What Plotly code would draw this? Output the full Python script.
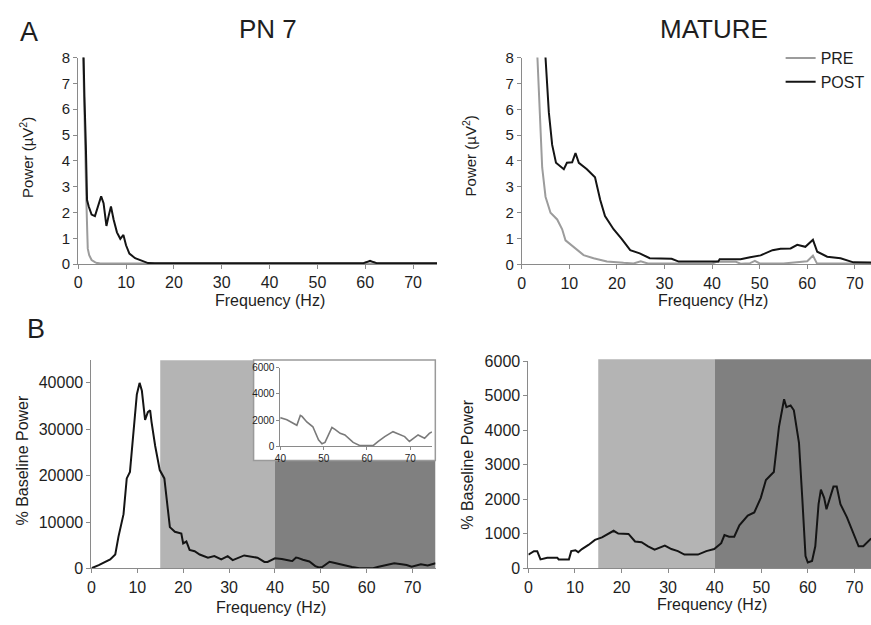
import plotly.graph_objects as go

# ---------------- data ----------------
# Panel A, PN 7 : power spectra (uV^2)
pn7_pre_freq = [0.8, 1.0, 1.3, 1.5, 1.7, 1.9, 2.0, 2.3, 2.55, 2.8, 3.5, 3.9, 4.5, 6, 10, 20, 30, 40, 50, 60, 70, 75]
pn7_pre_pow = [10, 8.0, 6.0, 4.5, 2.5, 1.2, 0.6, 0.35, 0.23, 0.16, 0.08, 0.04, 0.03, 0.02, 0.02, 0.02, 0.02, 0.02, 0.02, 0.02, 0.02, 0.02]

pn7_post_freq = [0.9, 1.04, 1.3, 1.6, 1.85, 2.2, 2.8, 3.5, 4.2, 4.8, 5.3, 5.9, 6.35, 6.85, 7.4, 8.1, 8.8,
                 9.45, 10.0, 10.7, 11.9, 13.3, 14.6, 16.0, 20, 30, 40, 50, 59.5, 60.3, 61.0, 61.7, 62.5, 70, 75]
pn7_post_pow = [10, 8.0, 6.5, 4.6, 2.48, 2.23, 1.92, 1.86, 2.23, 2.63, 2.36, 1.48, 1.86, 2.23, 1.73, 1.23, 0.98,
                1.13, 0.73, 0.41, 0.23, 0.14, 0.04, 0.03, 0.03, 0.03, 0.03, 0.03, 0.03, 0.08, 0.13, 0.08, 0.03, 0.03, 0.03]

# Panel A, MATURE : power spectra (uV^2)
mat_pre_freq = [3.1, 3.3, 3.8, 4.3, 5.0, 6.05, 7.45, 8.5, 9.2, 10.9, 13.0, 15.1, 17.9, 21.4, 23.5, 25.0, 26.5,
                30, 40, 41, 45, 46, 48, 49, 50, 55, 57.9, 60, 61.2, 62, 65, 73.4]
mat_pre_pow = [10, 8, 5.88, 3.75, 2.62, 2.0, 1.74, 1.36, 0.93, 0.68, 0.36, 0.24, 0.11, 0.06, 0.04, 0.12, 0.04,
               0.04, 0.04, 0.1, 0.1, 0.03, 0.05, 0.14, 0.04, 0.04, 0.1, 0.12, 0.34, 0.05, 0.04, 0.04]

mat_post_freq = [4.8, 5.0, 5.7, 6.4, 7.2, 8.85, 9.5, 10.6, 11.3, 12.0, 13.7, 15.4, 16.5, 17.5, 19.3, 21.0, 22.8,
                 24.8, 26.9, 30, 31.5, 33.0, 41.3, 41.6, 46, 48, 50.2, 52.7, 54.4, 56.5, 57.9, 59.6, 61.2, 62.1,
                 64.2, 67, 69.7, 73.4]
mat_post_pow = [10, 8, 5.88, 4.62, 3.93, 3.68, 3.93, 3.95, 4.31, 3.93, 3.68, 3.37, 2.49, 1.87, 1.36, 0.99, 0.55,
                0.43, 0.24, 0.24, 0.22, 0.11, 0.11, 0.2, 0.2, 0.28, 0.35, 0.55, 0.61, 0.62, 0.76, 0.68, 0.95, 0.49,
                0.3, 0.24, 0.08, 0.07]

# Panel B, PN 7 : % baseline power (also shown in the inset, 40-75 Hz)
pn7_pct_freq = [0, 0.14, 1.6, 3.0, 4.1, 5.2, 5.9, 7.0, 7.7, 8.4, 9.2, 9.9, 10.5, 11.0, 11.7, 12.3, 12.8, 13.1,
                13.9, 14.9, 15.9, 16.4, 17.1, 18.2, 19.6, 20.0, 20.7, 21.4, 22.5, 23.6, 25.4, 26.8, 28.3, 29.7,
                30.8, 33.3, 36.2, 37.7, 38.4, 40.0, 41.5, 43.4, 43.8, 44.6, 45.0, 46.1, 47.5, 48.8, 49.6, 50.3,
                51.1, 51.9, 52.6, 53.8, 54.9, 56.8, 58.4, 61.4, 62.6, 64.1, 66.0, 67.6, 68.7, 69.8, 70.6, 71.8,
                73.3, 74.4, 75.0]
pn7_pct_val = [100, 100, 700, 1400, 1950, 3000, 6850, 11700, 19400, 20800, 29200, 37500, 40000, 38300, 32000,
               33700, 34100, 31600, 26400, 21200, 19400, 15200, 8900, 7900, 7500, 5400, 5800, 4000, 3700, 3000,
               2300, 2650, 1950, 2650, 1800, 2800, 2300, 1400, 1400, 2180, 2030, 1660, 1610, 2360, 2280, 1860,
               1490, 500, 200, 300, 870, 1440, 1290, 990, 870, 300, 50, 50, 370, 740, 1120, 920, 740, 370, 550,
               870, 620, 990, 1100]

# Panel B, MATURE : % baseline power
mat_pct_freq = [0, 1.2, 1.9, 2.6, 4.05, 6.2, 6.5, 8.7, 9.2, 10.1, 10.7, 11.5, 12.9, 14.3, 15.8, 17.2, 18.3, 19.3,
                21.5, 22.9, 24.3, 25.7, 27.1, 29.3, 30.7, 32.1, 33.5, 36.4, 38.2, 39.9, 41.4, 42.1, 43.1, 44.2,
                45.3, 47.1, 48.5, 49.9, 51.0, 52.0, 52.7, 53.8, 54.9, 55.4, 56.3, 57.0, 58.1, 58.8, 59.5, 60.0,
                60.9, 61.6, 62.3, 62.8, 63.5, 64.0, 64.8, 65.5, 66.2, 67.0, 68.4, 69.8, 70.9, 71.9, 73.0, 73.6]
mat_pct_val = [400, 500, 500, 260, 310, 310, 260, 260, 500, 525, 470, 560, 680, 825, 900, 1010, 1090, 1010,
               1000, 780, 760, 640, 545, 660, 560, 500, 400, 400, 500, 560, 730, 965, 920, 920, 1250, 1530, 1620,
               2045, 2560, 2700, 2790, 4100, 4900, 4670, 4720, 4580, 3640, 2045, 360, 170, 215, 640, 1860, 2280,
               2045, 1715, 2090, 2370, 2370, 1860, 1480, 1010, 640, 640, 780, 870]

# frequency bands shaded in panel B (Hz)
beta_band = [15, 40]
gamma_band = [40, 75]

freq_ticks = [0, 10, 20, 30, 40, 50, 60, 70]
power_ticks = [0, 1, 2, 3, 4, 5, 6, 7, 8]
pn7_pct_ticks = [0, 10000, 20000, 30000, 40000]
mat_pct_ticks = [0, 1000, 2000, 3000, 4000, 5000, 6000]
inset_x_ticks = [40, 50, 60, 70]
inset_y_ticks = [0, 2000, 4000, 6000]

# ---------------- layout helpers ----------------
W, H = 871, 625
FONT = "Liberation Sans, Arial, Helvetica, sans-serif"
AXC = "#8a8a8a"
TXT = "#1e1e1e"
PRE_C = "#9c9c9c"
POST_C = "#141414"


def px(x):
    return x / W


def py(y):
    return 1 - y / H


fig = go.Figure()

fig.add_trace(go.Scatter(x=pn7_pre_freq, y=pn7_pre_pow, mode="lines", line=dict(color=PRE_C, width=2),
                         xaxis="x", yaxis="y", showlegend=False, hoverinfo="skip"))
fig.add_trace(go.Scatter(x=pn7_post_freq, y=pn7_post_pow, mode="lines", line=dict(color=POST_C, width=2),
                         xaxis="x", yaxis="y", showlegend=False, hoverinfo="skip"))
fig.add_trace(go.Scatter(x=mat_pre_freq, y=mat_pre_pow, mode="lines", name="PRE",
                         line=dict(color=PRE_C, width=2), xaxis="x2", yaxis="y2"))
fig.add_trace(go.Scatter(x=mat_post_freq, y=mat_post_pow, mode="lines", name="POST",
                         line=dict(color=POST_C, width=2), xaxis="x2", yaxis="y2"))
fig.add_trace(go.Scatter(x=pn7_pct_freq, y=pn7_pct_val, mode="lines", line=dict(color=POST_C, width=2),
                         xaxis="x3", yaxis="y3", showlegend=False, hoverinfo="skip"))
fig.add_trace(go.Scatter(x=mat_pct_freq, y=mat_pct_val, mode="lines", line=dict(color=POST_C, width=2),
                         xaxis="x4", yaxis="y4", showlegend=False, hoverinfo="skip"))
fig.add_trace(go.Scatter(x=pn7_pct_freq, y=pn7_pct_val, mode="lines", line=dict(color="#7a7a7a", width=1.6),
                         xaxis="x5", yaxis="y5", showlegend=False, hoverinfo="skip"))


def axis(domain, rng, ticks, size=16, ticklen=4):
    return dict(domain=domain, range=rng, tickvals=ticks, showgrid=False, zeroline=False,
                showline=True, linecolor=AXC, linewidth=1, ticks="outside", ticklen=ticklen,
                tickcolor=AXC, tickwidth=1, tickformat="d",
                tickfont=dict(size=size, color=TXT, family=FONT))


fig.update_layout(
    width=W, height=H, margin=dict(l=0, r=0, t=0, b=0),
    paper_bgcolor="white", plot_bgcolor="rgba(0,0,0,0)",
    font=dict(family=FONT, color=TXT),
    xaxis=dict(axis([px(72.7), px(434)], [0, 75], freq_ticks), anchor="y"),
    yaxis=dict(axis([py(262.7), py(50)], [0, 8], power_ticks, size=15), anchor="x"),
    xaxis2=dict(axis([px(519.3), 1.0], [0, 73.4], freq_ticks), anchor="y2"),
    yaxis2=dict(axis([py(263), py(50)], [0, 8], power_ticks, size=15), anchor="x2"),
    xaxis3=dict(axis([px(86), px(432.5)], [0, 75], freq_ticks), anchor="y3"),
    yaxis3=dict(axis([py(576), py(361.1)], [0, 45000], pn7_pct_ticks), anchor="x3"),
    xaxis4=dict(axis([px(526), 1.0], [0, 73.56], freq_ticks), anchor="y4"),
    yaxis4=dict(axis([py(576), py(362.7)], [0, 6000], mat_pct_ticks), anchor="x4"),
    xaxis5=dict(axis([px(276.3), px(428.9)], [40, 75], inset_x_ticks, size=10, ticklen=3), anchor="y5"),
    yaxis5=dict(axis([py(450.3), py(369.3)], [0, 6000], inset_y_ticks, size=10, ticklen=3), anchor="x5"),
    legend=dict(x=px(780), y=py(33), xanchor="left", yanchor="top", bgcolor="rgba(0,0,0,0)",
                font=dict(size=16, color=TXT, family=FONT), tracegroupgap=0),
)

shapes = [
    dict(type="rect", xref="x3", yref="paper", x0=beta_band[0], x1=beta_band[1], y0=py(576), y1=py(361.7),
         fillcolor="#b4b4b4", line=dict(width=0), layer="below"),
    dict(type="rect", xref="x3", yref="paper", x0=gamma_band[0], x1=gamma_band[1], y0=py(576), y1=py(361.7),
         fillcolor="#808080", line=dict(width=0), layer="below"),
    dict(type="rect", xref="x4", yref="paper", x0=beta_band[0], x1=beta_band[1], y0=py(576), y1=py(360.7),
         fillcolor="#b4b4b4", line=dict(width=0), layer="below"),
    dict(type="rect", xref="x4", yref="paper", x0=gamma_band[0], x1=gamma_band[1], y0=py(576), y1=py(360.7),
         fillcolor="#808080", line=dict(width=0), layer="below"),
    # inset frame
    dict(type="rect", xref="paper", yref="paper", x0=px(249.3), x1=px(432.3), y0=py(465), y1=py(361.5),
         fillcolor="white", line=dict(color="#9a9a9a", width=1.5), layer="below"),
]
fig.update_layout(shapes=shapes)


def label(text, x, y, size, angle=0):
    fig.add_annotation(text=text, x=px(x), y=py(y), xref="paper", yref="paper", showarrow=False,
                       xanchor="center", yanchor="middle", textangle=angle,
                       font=dict(size=size, color=TXT, family=FONT))


label("A", 23, 24, 27)
label("B", 30, 330, 27)
label("PN 7", 264, 21, 26)
label("MATURE", 713, 21, 26)
label("Frequency (Hz)", 266, 300, 16)
label("Frequency (Hz)", 712, 300, 16)
label("Frequency (Hz)", 267, 616, 16)
label("Frequency (Hz)", 711, 613, 16)
label("Power (µV<sup>2</sup>)", 20, 152.5, 15, -90)
label("Power (µV<sup>2</sup>)", 467, 151, 15, -90)
label("% Baseline Power", 17, 464, 16, -90)
label("% Baseline Power", 464.5, 469, 16, -90)

fig.write_html("out.html", config={"displayModeBar": False},
               post_script="document.body.style.margin='0px';document.body.style.overflow='hidden';")
